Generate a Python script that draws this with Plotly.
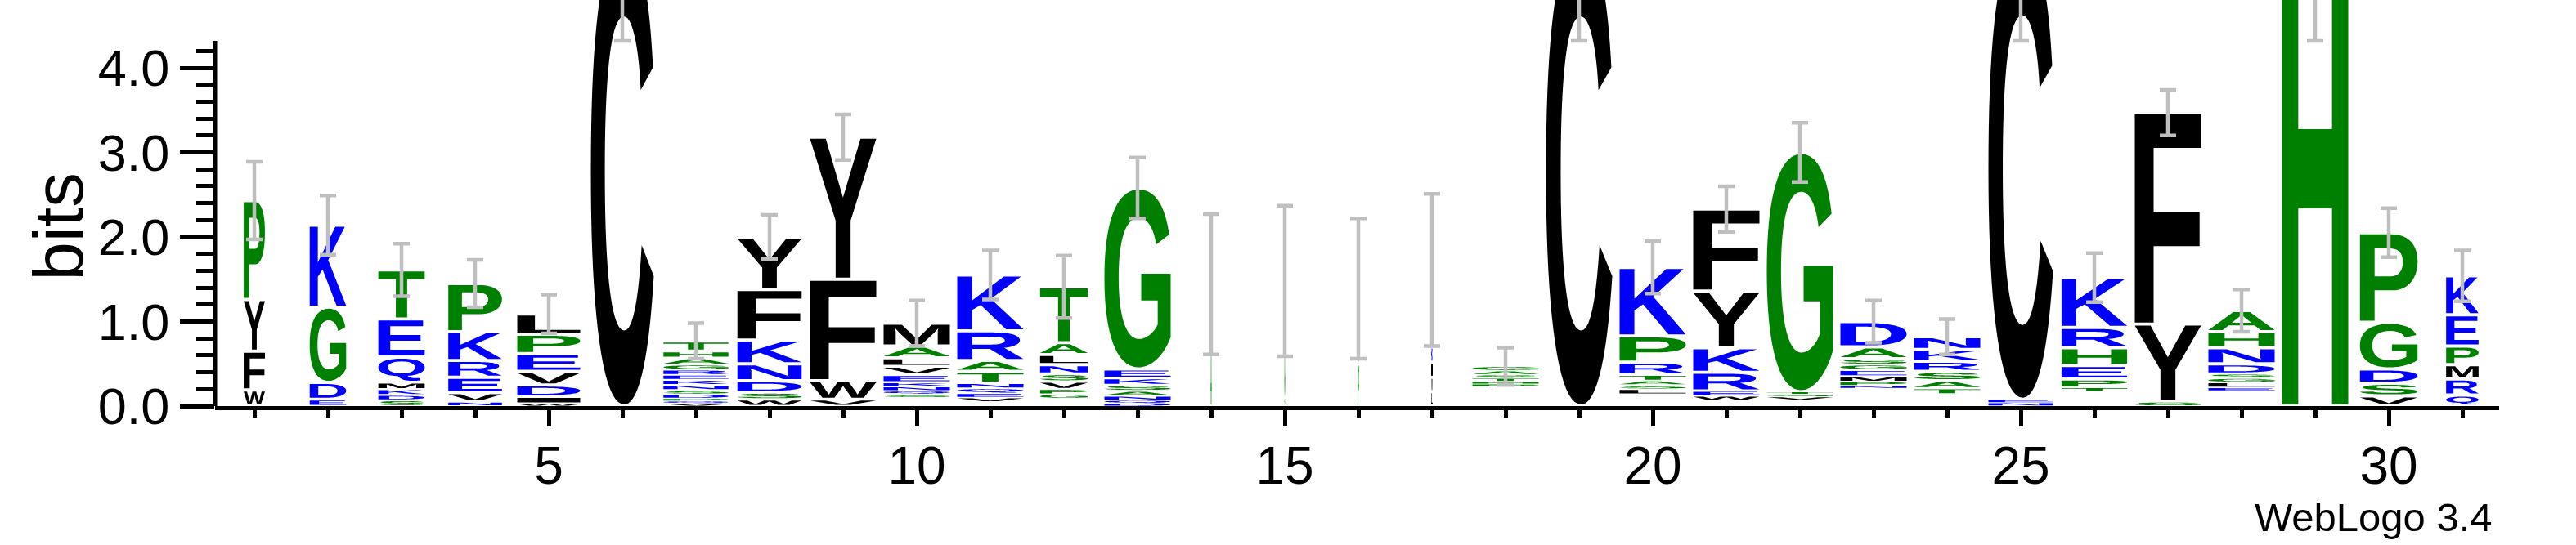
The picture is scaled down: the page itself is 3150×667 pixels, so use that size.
import os
import struct
import plotly.graph_objects as go

# ---------------- data ----------------
positions = list(range(1, 32))

# letters of each stack, bottom -> top ('-' = part of the stack too thin to be visible)
stack_letters = ["WFYP", "EDGK", "SDKMQET", "NVERKP", "WIDVEPL", "C",
                 "VQPDSNKERGAHT", "WSDNKFY", "VWFY", "-SQNKEVLAM", "-VEQNTARK",
                 "-GPVSNLAT", "DQNASKEG", "AG", "SG", "PG", "LVIKG", "-PHTSAG", "C",
                 "-LSATRPK", "-WERKYF", "-VSTG", "-NPMEGSAD", "-TASRKN", "NEC",
                 "-TPEHRK", "SYF", "-ELGSDNHA", "H", "VSDGP", "QRMPEK"]

# information content (bits) of each letter, same order
stack_bits = [
    [0.19, 0.46, 0.61, 1.17],
    [0.08, 0.20, 0.89, 0.97],
    [0.07, 0.06, 0.07, 0.08, 0.30, 0.45, 0.58],
    [0.05, 0.11, 0.18, 0.20, 0.34, 0.57],
    [0.03, 0.08, 0.14, 0.16, 0.21, 0.23, 0.24],
    [5.50],
    [0.03, 0.03, 0.03, 0.05, 0.05, 0.06, 0.06, 0.06, 0.06, 0.06, 0.08, 0.08, 0.12],
    [0.08, 0.08, 0.14, 0.20, 0.28, 0.60, 0.62],
    [0.08, 0.22, 1.20, 1.68],
    [0.10, 0.04, 0.04, 0.05, 0.05, 0.09, 0.10, 0.10, 0.14, 0.27],
    [0.05, 0.05, 0.05, 0.06, 0.06, 0.14, 0.13, 0.35, 0.66],
    [0.09, 0.05, 0.06, 0.09, 0.09, 0.11, 0.12, 0.14, 0.66],
    [0.03, 0.04, 0.05, 0.06, 0.07, 0.08, 0.11, 2.14],
    [0.65, 0.79],
    [0.10, 1.38],
    [0.50, 0.89],
    [0.17, 0.17, 0.18, 0.18, 0.91],
    [0.23, 0.03, 0.03, 0.04, 0.04, 0.05, 0.05],
    [5.50],
    [0.14, 0.06, 0.05, 0.05, 0.07, 0.15, 0.31, 0.81],
    [0.07, 0.05, 0.06, 0.22, 0.29, 0.67, 0.97],
    [0.07, 0.04, 0.03, 0.03, 2.83],
    [0.21, 0.03, 0.05, 0.06, 0.08, 0.06, 0.07, 0.14, 0.30],
    [0.14, 0.07, 0.09, 0.11, 0.12, 0.14, 0.15],
    [0.04, 0.04, 5.42],
    [0.17, 0.05, 0.10, 0.16, 0.21, 0.24, 0.59],
    [0.05, 0.92, 2.50],
    [0.18, 0.04, 0.06, 0.05, 0.05, 0.12, 0.19, 0.19, 0.25],
    [5.45],
    [0.12, 0.15, 0.17, 0.55, 1.06],
    [0.13, 0.19, 0.17, 0.22, 0.37, 0.46],
]

# half-length of the error bar of each stack (bits)
error_bits = [0.46, 0.35, 0.31, 0.28, 0.23, 1.18, 0.21, 0.26, 0.27, 0.27, 0.29,
              0.37, 0.36, 0.83, 0.89, 0.83, 0.90, 0.22, 1.18, 0.31, 0.27, 0.35,
              0.25, 0.21, 1.18, 0.29, 0.27, 0.25, 1.13, 0.29, 0.30]

# fraction of non-gap sequences (stack width scaling)
column_width = [0.32, 0.55, 0.70, 0.81, 0.95, 0.95, 0.98, 0.97, 1.0, 1.0, 1.0,
                0.72, 1.0, 0.02, 0.013, 0.02, 0.025, 1.0, 1.0, 1.0, 1.0, 1.0,
                1.0, 1.0, 0.975, 0.99, 1.0, 1.0, 1.0, 0.87, 0.49]

y_ticks = [0, 1, 2, 3, 4]
x_ticks = [5, 10, 15, 20, 25, 30]
max_bits_axis = 4.32

# hydrophobicity colour scheme
COLOR_GROUPS = {"RKDENQ": "#0000FF", "SGHTAP": "#008000", "YVMCLFIW": "#000000"}
FONT = "Liberation Sans, Arial, Helvetica, sans-serif"


def letter_color(ch):
    for k, v in COLOR_GROUPS.items():
        if ch in k:
            return v
    return "#000000"


# ---------------- minimal TrueType outline reader ----------------
def find_font():
    wanted = ["LiberationSans-Bold.ttf", "Arial_Bold.ttf", "arialbd.ttf",
              "DejaVuSans-Bold.ttf", "Roboto-Bold.ttf"]
    found = {}
    for root in ["/usr/share/fonts", "/usr/local/share/fonts",
                 os.path.expanduser("~/.fonts"), os.path.expanduser("~/.local/share/fonts")]:
        if not os.path.isdir(root):
            continue
        for dp, _, fns in os.walk(root):
            for f in fns:
                if f in wanted and f not in found:
                    found[f] = os.path.join(dp, f)
    for w in wanted:
        if w in found:
            return found[w]
    return None


class TTF:
    def __init__(self, path):
        d = open(path, "rb").read()
        self.d = d
        n = struct.unpack(">H", d[4:6])[0]
        self.t = {}
        for i in range(n):
            tag, _, off, ln = struct.unpack(">4sIII", d[12 + 16 * i:28 + 16 * i])
            self.t[tag.decode("latin1")] = (off, ln)
        ho = self.t["head"][0]
        self.locfmt = struct.unpack(">h", d[ho + 50:ho + 52])[0]
        mo = self.t["maxp"][0]
        self.ng = struct.unpack(">H", d[mo + 4:mo + 6])[0]
        lo = self.t["loca"][0]
        if self.locfmt == 0:
            self.loca = [2 * x for x in struct.unpack(">%dH" % (self.ng + 1), d[lo:lo + 2 * (self.ng + 1)])]
        else:
            self.loca = list(struct.unpack(">%dI" % (self.ng + 1), d[lo:lo + 4 * (self.ng + 1)]))
        self.cmap = self._cmap()

    def _cmap(self):
        d = self.d
        co = self.t["cmap"][0]
        n = struct.unpack(">H", d[co + 2:co + 4])[0]
        o = None
        for i in range(n):
            pid, eid, off = struct.unpack(">HHI", d[co + 4 + 8 * i:co + 12 + 8 * i])
            fmt = struct.unpack(">H", d[co + off:co + off + 2])[0]
            if fmt == 4:
                o = co + off
                if pid == 3:
                    break
        segx2 = struct.unpack(">H", d[o + 6:o + 8])[0]
        seg = segx2 // 2
        ends = struct.unpack(">%dH" % seg, d[o + 14:o + 14 + segx2])
        starts = struct.unpack(">%dH" % seg, d[o + 16 + segx2:o + 16 + 2 * segx2])
        deltas = struct.unpack(">%dh" % seg, d[o + 16 + 2 * segx2:o + 16 + 3 * segx2])
        rp = o + 16 + 3 * segx2
        roffs = struct.unpack(">%dH" % seg, d[rp:rp + segx2])
        m = {}
        for code in range(65, 91):
            for s in range(seg):
                if starts[s] <= code <= ends[s]:
                    if roffs[s] == 0:
                        g = (code + deltas[s]) & 0xFFFF
                    else:
                        a = rp + 2 * s + roffs[s] + 2 * (code - starts[s])
                        g = struct.unpack(">H", d[a:a + 2])[0]
                        if g:
                            g = (g + deltas[s]) & 0xFFFF
                    m[chr(code)] = g
                    break
        return m

    def glyph(self, gid):
        d = self.d
        go = self.t["glyf"][0] + self.loca[gid]
        if self.loca[gid] == self.loca[gid + 1]:
            return []
        nc = struct.unpack(">h", d[go:go + 2])[0]
        if nc < 0:
            return self._composite(go)
        p = go + 10
        ends = struct.unpack(">%dH" % nc, d[p:p + 2 * nc])
        p += 2 * nc
        il = struct.unpack(">H", d[p:p + 2])[0]
        p += 2 + il
        npts = ends[-1] + 1
        flags = []
        while len(flags) < npts:
            f = d[p]
            p += 1
            flags.append(f)
            if f & 8:
                r = d[p]
                p += 1
                flags.extend([f] * r)
        xs, x = [], 0
        for f in flags:
            if f & 2:
                v = d[p]
                p += 1
                x += v if f & 16 else -v
            elif not f & 16:
                x += struct.unpack(">h", d[p:p + 2])[0]
                p += 2
            xs.append(x)
        ys, y = [], 0
        for f in flags:
            if f & 4:
                v = d[p]
                p += 1
                y += v if f & 32 else -v
            elif not f & 32:
                y += struct.unpack(">h", d[p:p + 2])[0]
                p += 2
            ys.append(y)
        out, s = [], 0
        for e in ends:
            out.append([(xs[i], ys[i], flags[i] & 1) for i in range(s, e + 1)])
            s = e + 1
        return out

    def _composite(self, go):
        d = self.d
        p = go + 10
        out = []
        while True:
            fl, gi = struct.unpack(">HH", d[p:p + 4])
            p += 4
            if fl & 1:
                a1, a2 = struct.unpack(">hh", d[p:p + 4])
                p += 4
            else:
                a1, a2 = struct.unpack(">bb", d[p:p + 2])
                p += 2
            sx = sy = 1.0
            if fl & 8:
                sx = sy = struct.unpack(">h", d[p:p + 2])[0] / 16384.0
                p += 2
            elif fl & 0x40:
                sx, sy = [v / 16384.0 for v in struct.unpack(">hh", d[p:p + 4])]
                p += 4
            elif fl & 0x80:
                vals = [v / 16384.0 for v in struct.unpack(">hhhh", d[p:p + 8])]
                sx, sy = vals[0], vals[3]
                p += 8
            dx, dy = (a1, a2) if fl & 2 else (0, 0)
            for c in self.glyph(gi):
                out.append([(q[0] * sx + dx, q[1] * sy + dy, q[2]) for q in c])
            if not fl & 0x20:
                break
        return out


def flatten(contour, steps=10):
    n = len(contour)
    exp = []
    for i in range(n):
        a, b = contour[i], contour[(i + 1) % n]
        exp.append(a)
        if not a[2] and not b[2]:
            exp.append(((a[0] + b[0]) / 2.0, (a[1] + b[1]) / 2.0, 1))
    k = next(i for i, q in enumerate(exp) if q[2])
    exp = exp[k:] + exp[:k]
    m = len(exp)
    res = [(exp[0][0], exp[0][1])]
    i = 0
    while i < m:
        p0, p1 = exp[i], exp[(i + 1) % m]
        if p1[2]:
            res.append((p1[0], p1[1]))
            i += 1
        else:
            p2 = exp[(i + 2) % m]
            for s in range(1, steps + 1):
                t = s / steps
                res.append(((1 - t) ** 2 * p0[0] + 2 * (1 - t) * t * p1[0] + t * t * p2[0],
                            (1 - t) ** 2 * p0[1] + 2 * (1 - t) * t * p1[1] + t * t * p2[1]))
            i += 2
    return res


GLYPHS = {}
font_path = find_font()
if font_path:
    ttf = TTF(font_path)
    for ch in "ACDEFGHIKLMNPQRSTVWY":
        cs = [flatten(c) for c in ttf.glyph(ttf.cmap[ch])]
        xs = [q[0] for c in cs for q in c]
        ys = [q[1] for c in cs for q in c]
        GLYPHS[ch] = (cs, min(xs), max(xs), min(ys), max(ys))

# ---------------- figure ----------------
STACK_W = 0.9     # full stack width in position units
shapes = []
totals = []
for pos, letters, bits, wfrac in zip(positions, stack_letters, stack_bits, column_width):
    base = 0.0
    w = STACK_W * wfrac
    for ch, h in zip(letters, bits):
        if ch != "-":
            mg = min(0.019, 0.17 * h)
            y0, y1 = base + mg, base + h - mg
            x0, x1 = pos - w / 2, pos + w / 2
            if ch in GLYPHS:
                cs, gx0, gx1, gy0, gy1 = GLYPHS[ch]
                parts = []
                for c in cs:
                    pts = ["%.5f,%.5f" % (x0 + (q[0] - gx0) / (gx1 - gx0) * (x1 - x0),
                                          y0 + (q[1] - gy0) / (gy1 - gy0) * (y1 - y0)) for q in c]
                    parts.append("M" + "L".join(pts) + "Z")
                path = "".join(parts)
            else:
                path = "M%f,%fL%f,%fL%f,%fL%f,%fZ" % (x0, y0, x1, y0, x1, y1, x0, y1)
            shapes.append(dict(type="path", xref="x", yref="y", path=path,
                               fillcolor=letter_color(ch), line=dict(width=0),
                               layer="below", fillrule="nonzero"))
        base += h
    totals.append(base)

# y-axis line only up to the maximum entropy
shapes.append(dict(type="line", xref="paper", yref="y", x0=0, x1=0, y0=0, y1=max_bits_axis,
                   line=dict(color="black", width=5), layer="above"))

fig = go.Figure()
fig.add_trace(go.Scatter(
    x=positions, y=totals, mode="markers",
    marker=dict(size=1, color="rgba(0,0,0,0)"),
    error_y=dict(type="data", array=error_bits, visible=True,
                 color="#BFBFBF", thickness=4.5, width=10),
    hoverinfo="skip", showlegend=False))

W, H = 3150, 667
ML, MR, MT, MB = 263, 94, 0, 170
px_per_unit = 90.0
px_per_bit = 103.5
x_hi = 31.5
x_lo = x_hi - (W - ML - MR) / px_per_unit
y_hi = (H - MT - MB) / px_per_bit

minor_y = [round(0.2 * k, 1) for k in range(1, 22) if k % 5]

fig.update_layout(
    width=W, height=H,
    margin=dict(l=ML, r=MR, t=MT, b=MB, pad=0),
    plot_bgcolor="white", paper_bgcolor="white",
    font=dict(family=FONT, color="black"),
    shapes=shapes,
    showlegend=False,
    hovermode=False,
    xaxis=dict(range=[x_lo, x_hi], showgrid=False, zeroline=False,
               showline=True, linecolor="black", linewidth=5,
               tickmode="array", tickvals=x_ticks, ticktext=[str(v) for v in x_ticks],
               ticks="outside", ticklen=19, tickwidth=5, tickcolor="black",
               ticklabelstandoff=-6,
               tickfont=dict(size=64, family=FONT, color="black"),
               minor=dict(tickmode="array", tickvals=positions, ticks="outside",
                          ticklen=9, tickwidth=5, tickcolor="black")),
    yaxis=dict(range=[0, y_hi], showgrid=False, zeroline=False, showline=False,
               tickmode="array", tickvals=y_ticks, ticktext=["%.1f" % v for v in y_ticks],
               ticks="outside", ticklen=42, tickwidth=5, tickcolor="black",
               tickfont=dict(size=63, family=FONT, color="black"),
               minor=dict(tickmode="array", tickvals=minor_y, ticks="outside",
                          ticklen=22, tickwidth=5, tickcolor="black")),
    annotations=[
        dict(text="bits", xref="paper", yref="y", x=0, y=max_bits_axis / 2 - 0.04,
             xanchor="center", yanchor="middle", xshift=-(ML - 72), textangle=-90,
             showarrow=False, font=dict(size=85, family=FONT, color="black")),
        dict(text="WebLogo 3.4", xref="paper", yref="paper",
             x=(3050 - ML) / (W - ML - MR), y=(497 - 633) / (H - MT - MB),
             xanchor="right", yanchor="middle", showarrow=False,
             font=dict(size=49, family=FONT, color="black")),
    ],
)

fig.write_html("out.html",
               config={"displayModeBar": False, "staticPlot": True},
               post_script="document.body.style.margin='0';document.body.style.padding='0';")
